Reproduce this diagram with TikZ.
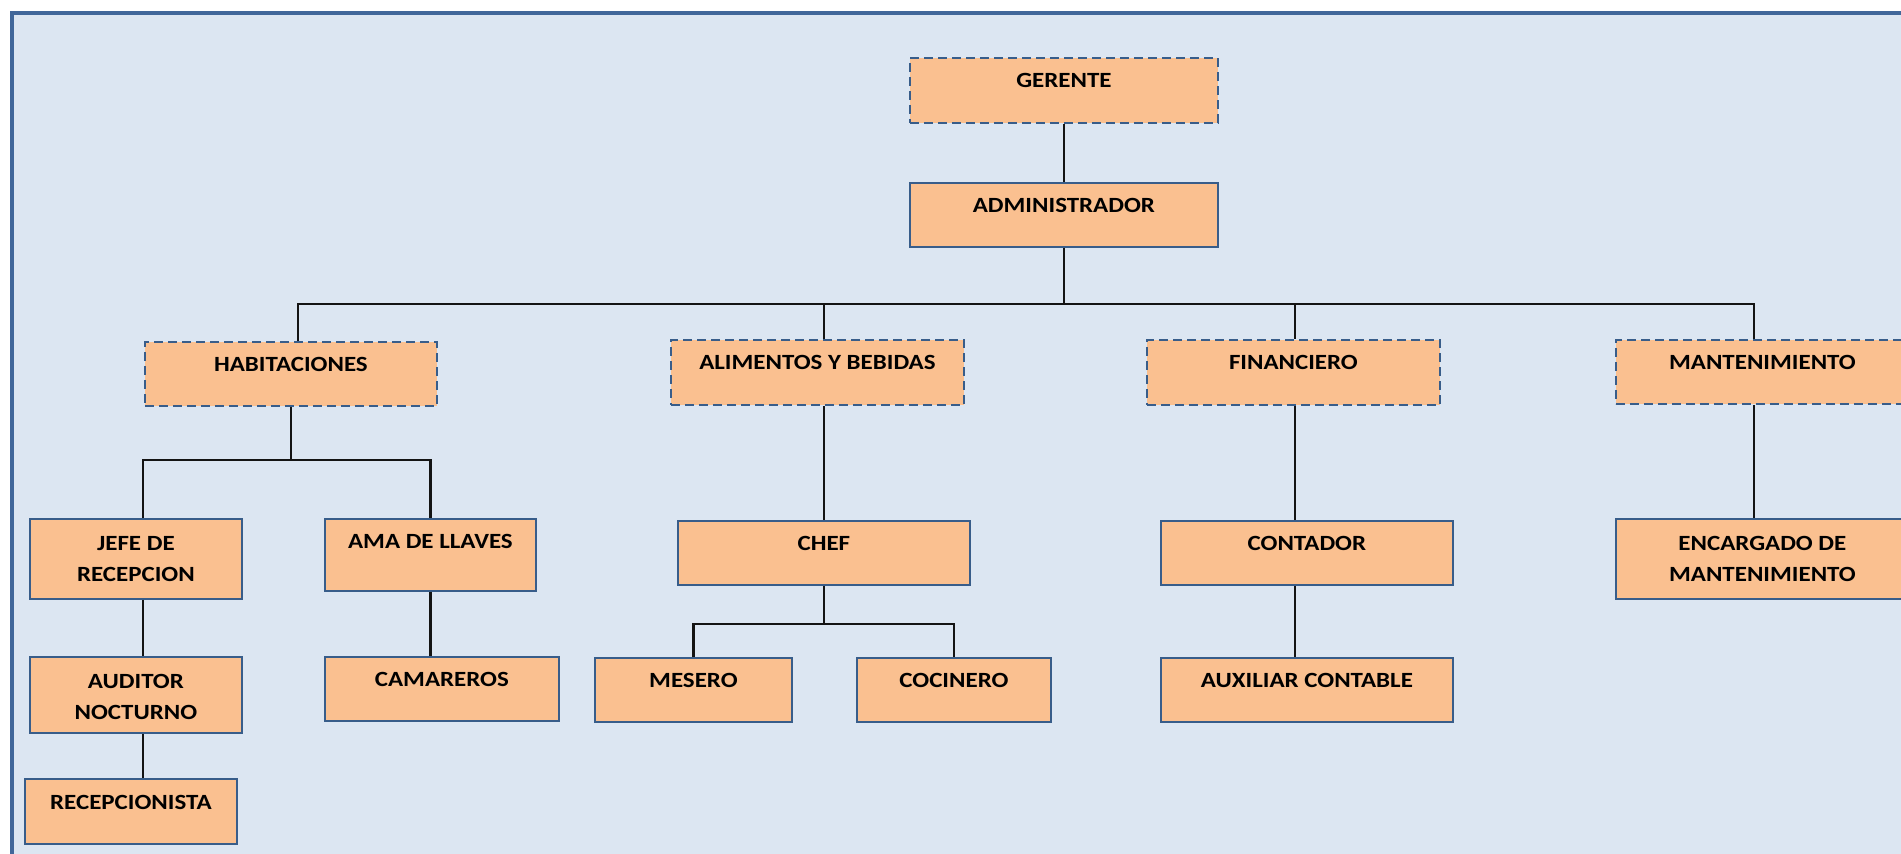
\documentclass[tikz,border=0pt]{standalone}
\usepackage{fontspec}
\setmainfont{Carlito}[FakeStretch=1.15]
\definecolor{framef}{HTML}{DCE6F2}
\definecolor{framec}{HTML}{41679A}
\definecolor{boxf}{HTML}{FAC090}
\definecolor{boxc}{HTML}{385D8A}
\definecolor{linec}{HTML}{141414}
\newcommand\bt[4][29.5pt]{\parbox[c][#3][t]{#2}{\centering\rule{0pt}{#1}#4\par}}
\tikzset{
  box/.style={draw=boxc, fill=boxf, line width=1.8pt, inner sep=0pt, anchor=north west,
    font=\bfseries\fontsize{21.7}{31.5}\selectfont},
  dsh/.style={dash pattern=on 9pt off 5pt},
  conn/.style={draw=linec, line width=2.2pt}
}
\begin{document}
\begin{tikzpicture}[x=1pt,y=-1pt]
\useasboundingbox (0,0) rectangle (1901,854);
\clip (0,0) rectangle (1901,854);
\fill[white] (0,0) rectangle (1901,854);
\draw[draw=framec, line width=3.5pt, fill=framef] (12,13) rectangle (1930,890);

% boxes
\node[box,dsh] (ger) at (909,57) {\bt{308pt}{65pt}{GERENTE}};
\node[box] (adm) at (909,182) {\bt{308pt}{64pt}{ADMINISTRADOR}};
\node[box,dsh] (hab) at (144,341) {\bt{292pt}{64pt}{HABITACIONES}};
\node[box,dsh] (ali) at (670,339) {\bt{293pt}{65pt}{ALIMENTOS Y BEBIDAS}};
\node[box,dsh] (fin) at (1146,339) {\bt{293pt}{65pt}{FINANCIERO}};
\node[box,dsh] (man) at (1615,339) {\bt{293pt}{64pt}{MANTENIMIENTO}};
\node[box] (jefe) at (29,518) {\bt[31.5pt]{212pt}{80pt}{JEFE DE\\RECEPCION}};
\node[box] (ama) at (324,518) {\bt{211pt}{72pt}{AMA DE LLAVES}};
\node[box] (aud) at (29,656) {\bt[31.5pt]{212pt}{76pt}{AUDITOR\\NOCTURNO}};
\node[box] (cam) at (324,656) {\bt{234pt}{64pt}{CAMAREROS}};
\node[box] (rec) at (24,778) {\bt[31pt]{212pt}{65pt}{RECEPCIONISTA}};
\node[box] (chef) at (677,520) {\bt{292pt}{64pt}{CHEF}};
\node[box] (mes) at (594,657) {\bt{197pt}{64pt}{MESERO}};
\node[box] (coc) at (856,657) {\bt{194pt}{64pt}{COCINERO}};
\node[box] (con) at (1160,520) {\bt{292pt}{64pt}{CONTADOR}};
\node[box] (aux) at (1160,657) {\bt{292pt}{64pt}{AUXILIAR CONTABLE}};
\node[box] (enc) at (1615,518) {\bt[31.5pt]{293pt}{80pt}{ENCARGADO DE\\MANTENIMIENTO}};

% connector helpers
\coordinate (bus) at (0,304);
\coordinate (hx) at (298,0);
\coordinate (ax) at (824,0);
\coordinate (fx) at (1295,0);
\coordinate (mx) at (1754,0);
\coordinate (hsub) at (0,460);
\coordinate (jx) at (143,0);
\coordinate (csub) at (0,624);

% connectors
\draw[conn] (ger.south) -- (adm.north);
\draw[conn] (adm.south) -- (adm.south |- bus);
\draw[conn] (hab.north -| hx) -- (hx |- bus) -- (mx |- bus) -- (man.north -| mx);
\draw[conn] (ali.north -| ax) -- (ax |- bus);
\draw[conn] (fin.north -| fx) -- (fx |- bus);

\draw[conn] (hab.south) -- (hab.south |- hsub);
\draw[conn] (jefe.north -| jx) -- (jx |- hsub) -- (ama.north |- hsub) -- (ama.north);
\draw[conn] (jefe.south -| jx) -- (aud.north -| jx);
\draw[conn] (aud.south -| jx) -- (rec.north -| jx);
\draw[conn] (ama.south) -- (cam.north -| ama.south);

\draw[conn] (ali.south -| ax) -- (chef.north -| ax);
\draw[conn] (chef.south -| ax) -- (ax |- csub);
\draw[conn] (mes.north) -- (mes.north |- csub) -- (coc.north |- csub) -- (coc.north);

\draw[conn] (fin.south -| fx) -- (con.north -| fx);
\draw[conn] (con.south -| fx) -- (aux.north -| fx);

\draw[conn] (man.south -| mx) -- (enc.north -| mx);
\end{tikzpicture}
\end{document}
